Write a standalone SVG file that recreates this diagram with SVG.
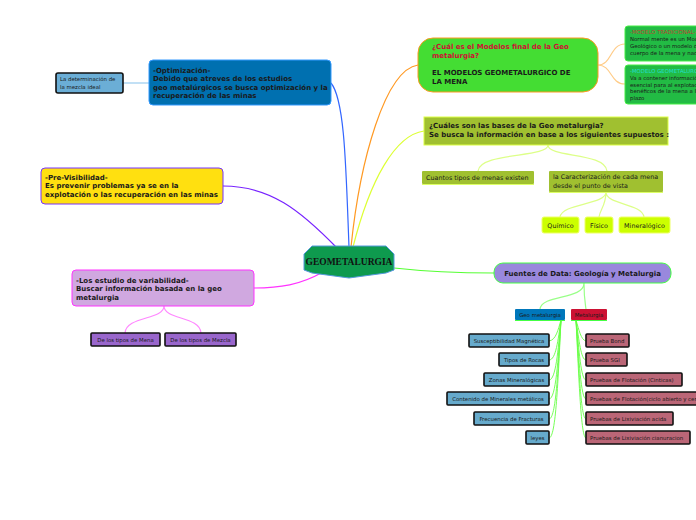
<svg xmlns="http://www.w3.org/2000/svg" width="696" height="520" viewBox="0 0 696 520">
<style>
text{font-family:"DejaVu Sans","Verdana",sans-serif;fill:#1a1a1a}
.b{font-weight:bold;font-size:7px}
.s{font-size:5.4px}
.m{font-size:6.4px}
.c{fill:none;stroke-width:1.2}
.blk{stroke:#111;stroke-width:1.6}
</style>
<rect width="696" height="520" fill="#fff"/>
<g id="connectors">
<path class="c" stroke="#3366FF" d="M349,247 C346,170 345,100 331,83"/>
<path class="c" stroke="#FF9922" d="M351,247 C360,160 385,70 418,65"/>
<path class="c" stroke="#DDFF33" d="M353,247 C370,180 395,135 424,131"/>
<path class="c" stroke="#7722FF" d="M337,248 C300,210 270,186 223,186"/>
<path class="c" stroke="#FF33FF" d="M323,272 C300,285 280,288 254,288"/>
<path class="c" stroke="#55FF33" d="M394,268 C430,272 460,273 494,273"/>
<path class="c" stroke="#99CCEE" d="M149,83 L123,83"/>
<path class="c" stroke="#FFCC88" stroke-width="0.8" d="M598,65 C612,65 610,44 625,44 M598,65 C612,65 610,84 625,84"/>
<path class="c" stroke="#DDFF88" stroke-width="0.8" d="M548,145 C548,158 480,152 478,171 M548,145 C548,158 605,152 607,171 M606,192 C606,205 562,203 560,217 M606,192 C606,205 600,210 599,217 M606,192 C606,205 642,203 644,217"/>
<path class="c" stroke="#FF88FF" stroke-width="0.8" d="M164,306 C164,320 126,316 125,333 M164,306 C164,320 200,316 201,333"/>
<path class="c" stroke="#99FF88" stroke-width="0.8" d="M584,283 C584,300 542,294 540,309 M584,283 C584,298 585,302 586,309"/>
<g stroke="#66FF44" stroke-width="0.9" fill="none">
<path d="M561,320 C558,330 556,340 549,341"/>
<path d="M561,320 C558,340 556,360 549,360"/>
<path d="M561,320 C558,350 556,380 549,380"/>
<path d="M561,320 C558,360 556,399 549,399"/>
<path d="M561,320 C558,370 556,419 549,419"/>
<path d="M561,320 C558,380 556,438 549,438"/>
<path d="M576,320 C579,330 581,340 586,341"/>
<path d="M576,320 C579,340 581,360 586,360"/>
<path d="M576,320 C579,350 581,380 586,380"/>
<path d="M576,320 C579,360 581,399 586,399"/>
<path d="M576,320 C579,370 581,419 586,419"/>
<path d="M576,320 C579,380 581,438 586,438"/>
</g>
</g>
<g id="center">
<path d="M312,246 L386,246 L394,254 L394,270 L386,273 L349,278 L312,273 L304,270 L304,254 Z" fill="#0E9A4E" stroke="#5599DD" stroke-width="1"/>
<text x="349" y="265" text-anchor="middle" style="font-family:'Liberation Serif',serif;font-weight:bold;font-size:9.5px;fill:#111">GEOMETALURGIA</text>
</g>
<g id="optimizacion">
<rect x="149" y="60" width="182" height="45" rx="4" fill="#0070B0" stroke="#3399FF" stroke-width="1"/>
<text class="b" x="153" y="73">-Optimización-</text>
<text class="b" x="153" y="81">Debido que atreves de los estudios</text>
<text class="b" x="153" y="90">geo metalúrgicos se busca optimización y la</text>
<text class="b" x="153" y="98">recuperación de las minas</text>
</g>
<g id="determinacion">
<rect x="56" y="73" width="67" height="20" rx="2" fill="#6BAED6" class="blk"/>
<text class="s" x="60" y="81">La determinación de</text>
<text class="s" x="60" y="89">la mezcla ideal</text>
</g>
<g id="modelo-final">
<rect x="418" y="38" width="180" height="54" rx="15" fill="#44DD33" stroke="#FF9922" stroke-width="1"/>
<text class="b" x="432" y="49" style="fill:#CC1133">¿Cuál es el Modelos final de la Geo</text>
<text class="b" x="432" y="58" style="fill:#CC1133">metalurgia?</text>
<text class="b" x="432" y="75">EL MODELOS GEOMETALURGICO DE</text>
<text class="b" x="432" y="84">LA MENA</text>
</g>
<g id="modelo-tradicional">
<rect x="625" y="26" width="80" height="35" rx="3" fill="#22BB44" stroke="#44EE44" stroke-width="1"/>
<text class="s" x="630" y="34" style="fill:#BB4433">-MODELO TRADICIONAL-</text>
<text class="s" x="630" y="41">Normal mente es un Modelo</text>
<text class="s" x="630" y="48">Geológico o un modelo de</text>
<text class="s" x="630" y="55">cuerpo de la mena y nada</text>
</g>
<g id="modelo-geometalurgico">
<rect x="625" y="65" width="80" height="39" rx="3" fill="#22BB44" stroke="#44EE44" stroke-width="1"/>
<text class="s" x="630" y="73" style="fill:#22DDCC">-MODELO GEOMETALURGICO-</text>
<text class="s" x="630" y="80">Va a contener información</text>
<text class="s" x="630" y="87">esencial para al explotación</text>
<text class="s" x="630" y="93">benéficos de la mena a largo</text>
<text class="s" x="630" y="100">plazo</text>
</g>
<g id="bases">
<rect x="424" y="117" width="244" height="28" fill="#A0C030" stroke="#DDFF44" stroke-width="1"/>
<text class="b" x="429" y="128">¿Cuáles son las bases de la Geo metalurgia?</text>
<text class="b" x="429" y="137">Se busca la información en base a los siguientes supuestos :</text>
</g>
<g id="cuantos">
<rect x="422" y="171" width="112" height="13" rx="1" fill="#A0C030"/>
<line x1="422" y1="184.5" x2="534" y2="184.5" stroke="#DDFF66" stroke-width="1"/>
<text class="m" x="426" y="180">Cuantos tipos de menas existen</text>
</g>
<g id="caracterizacion">
<rect x="549" y="171" width="114" height="21" rx="1" fill="#A0C030"/>
<line x1="549" y1="192.5" x2="663" y2="192.5" stroke="#DDFF66" stroke-width="1"/>
<text class="m" x="553" y="179">la Caracterización de cada mena</text>
<text class="m" x="553" y="188">desde el punto de vista</text>
</g>
<g id="quimico">
<rect x="542" y="217" width="37" height="16" rx="2" fill="#CCFF00" stroke="#EEFF66" stroke-width="1"/>
<text class="m" x="560.5" y="228" text-anchor="middle">Químico</text>
</g>
<g id="fisico">
<rect x="585" y="217" width="28" height="16" rx="2" fill="#CCFF00" stroke="#EEFF66" stroke-width="1"/>
<text class="m" x="599" y="228" text-anchor="middle">Físico</text>
</g>
<g id="mineralogico">
<rect x="619" y="217" width="51" height="16" rx="2" fill="#CCFF00" stroke="#EEFF66" stroke-width="1"/>
<text class="m" x="644.5" y="228" text-anchor="middle">Mineralógico</text>
</g>
<g id="previsibilidad">
<rect x="41" y="168" width="182" height="36" rx="4" fill="#FFE010" stroke="#7733FF" stroke-width="1"/>
<text class="b" x="45" y="180">-Pre-Visibilidad-</text>
<text class="b" x="45" y="188">Es prevenir problemas ya se en la</text>
<text class="b" x="45" y="197">explotación o las recuperación en las minas</text>
</g>
<g id="variabilidad">
<rect x="72" y="270" width="182" height="36" rx="4" fill="#D0A8E0" stroke="#FF33FF" stroke-width="1"/>
<text class="b" x="76" y="283">-Los estudio de variabilidad-</text>
<text class="b" x="76" y="291">Buscar información basada en la geo</text>
<text class="b" x="76" y="300">metalurgia</text>
</g>
<g id="tipos-mena">
<rect x="91" y="333" width="69" height="13" rx="1" fill="#9966CC" class="blk"/>
<text class="s" x="125.5" y="341.5" text-anchor="middle">De los tipos de Mena</text>
</g>
<g id="tipos-mezcla">
<rect x="165" y="333" width="71" height="13" rx="1" fill="#9966CC" class="blk"/>
<text class="s" x="200.5" y="341.5" text-anchor="middle">De los tipos de Mezcla</text>
</g>
<g id="fuentes">
<rect x="494" y="263" width="177" height="20" rx="9" fill="#9988DD" stroke="#44FF44" stroke-width="1"/>
<text class="b" x="582.5" y="276" text-anchor="middle">Fuentes de Data: Geología y Metalurgia</text>
</g>
<g id="geo-metalurgia">
<rect x="515" y="309" width="50" height="11" rx="1" fill="#0077BB"/>
<line x1="515" y1="320.5" x2="565" y2="320.5" stroke="#44FF44" stroke-width="1"/>
<text class="s" x="540" y="316.8" text-anchor="middle">Geo metalurgia</text>
</g>
<g id="metalurgia">
<rect x="571" y="309" width="36" height="11" rx="1" fill="#CC1133"/>
<line x1="571" y1="320.5" x2="607" y2="320.5" stroke="#44FF44" stroke-width="1"/>
<text class="s" x="589" y="316.8" text-anchor="middle">Metalurgia</text>
</g>
<g id="susceptibilidad">
<rect x="469" y="334" width="80" height="13" rx="1" fill="#66AACC" class="blk"/>
<text class="s" x="509" y="342.5" text-anchor="middle">Susceptibilidad Magnética</text>
</g>
<g id="tipos-rocas">
<rect x="499" y="353" width="50" height="13" rx="1" fill="#66AACC" class="blk"/>
<text class="s" x="524" y="361.5" text-anchor="middle">Tipos de Rocas</text>
</g>
<g id="zonas">
<rect x="484" y="373" width="65" height="13" rx="1" fill="#66AACC" class="blk"/>
<text class="s" x="516.5" y="381.5" text-anchor="middle">Zonas Mineralógicas</text>
</g>
<g id="contenido">
<rect x="447" y="392" width="102" height="13" rx="1" fill="#66AACC" class="blk"/>
<text class="s" x="498" y="400.5" text-anchor="middle">Contenido de Minerales metálicos</text>
</g>
<g id="frecuencia">
<rect x="474" y="412" width="75" height="13" rx="1" fill="#66AACC" class="blk"/>
<text class="s" x="511.5" y="420.5" text-anchor="middle">Frecuencia de Fracturas</text>
</g>
<g id="leyes">
<rect x="526" y="431" width="23" height="13" rx="1" fill="#66AACC" class="blk"/>
<text class="s" x="537.5" y="439.5" text-anchor="middle">leyes</text>
</g>
<g id="bond">
<rect x="586" y="334" width="43" height="13" rx="1" fill="#BB6677" class="blk"/>
<text class="s" x="590" y="342.5">Prueba Bond</text>
</g>
<g id="sgi">
<rect x="586" y="353" width="41" height="13" rx="1" fill="#BB6677" class="blk"/>
<text class="s" x="590" y="361.5">Prueba SGI</text>
</g>
<g id="flotacion-cineticas">
<rect x="586" y="373" width="96" height="13" rx="1" fill="#BB6677" class="blk"/>
<text class="s" x="590" y="381.5">Pruebas de Flotación (Cinticas)</text>
</g>
<g id="flotacion-ciclo">
<rect x="586" y="392" width="120" height="13" rx="1" fill="#BB6677" class="blk"/>
<text class="s" x="590" y="400.5">Pruebas de Flotación(ciclo abierto y cerrado)</text>
</g>
<g id="lixiviacion-acida">
<rect x="586" y="412" width="87" height="13" rx="1" fill="#BB6677" class="blk"/>
<text class="s" x="590" y="420.5">Pruebas de Lixiviación acida</text>
</g>
<g id="lixiviacion-cianuracion">
<rect x="586" y="431" width="104" height="13" rx="1" fill="#BB6677" class="blk"/>
<text class="s" x="590" y="439.5">Pruebas de Lixiviación cianuracion</text>
</g>
</svg>
